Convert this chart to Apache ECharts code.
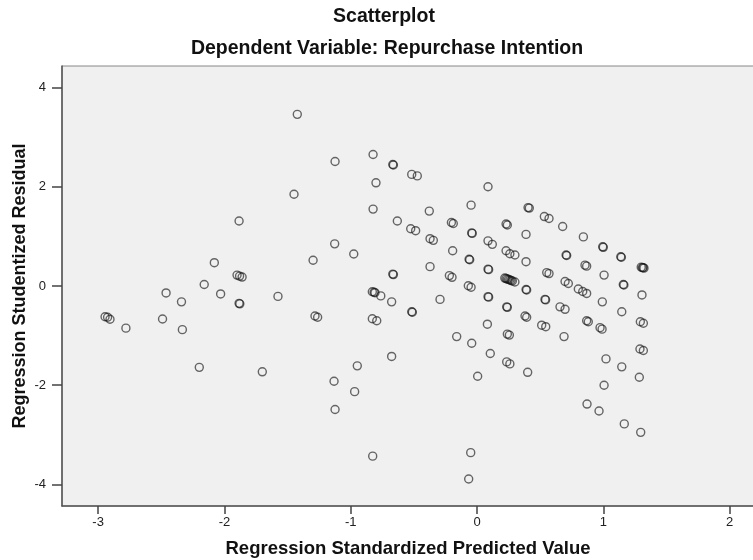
<!DOCTYPE html>
<html>
<head>
<meta charset="utf-8">
<script src="https://cdn.jsdelivr.net/npm/echarts@6/dist/echarts.min.js"></script>
<style>
html,body{margin:0;padding:0;background:#fff;}
#chart{width:753px;height:560px;}
</style>
</head>
<body>
<div id="chart"></div>
<script>
// Regression Standardized Predicted Value
var predicted = [
 -2.945,-2.925,-2.906,-2.78,-2.49,-2.462,-2.34,-2.333,-2.199,-2.16,-2.08,-2.03,
 -1.90,-1.88,-1.86,-1.884,-1.884,-1.878,-1.70,-1.576,-1.449,-1.423,-1.298,-1.283,-1.262,
 -1.132,-1.127,-1.124,-1.124,-0.976,-0.969,-0.948,-0.829,-0.815,-0.808,-0.762,-0.829,-0.794,
 -0.826,-0.823,-0.823,-0.80,-0.676,-0.676,-0.667,-0.662,-0.667,-0.662,-0.631,-0.525,-0.486,
 -0.517,-0.473,-0.517,-0.512,-0.378,-0.372,-0.346,-0.372,-0.293,-0.219,-0.198,-0.203,-0.188,
 -0.193,-0.161,-0.069,-0.047,-0.063,-0.058,-0.047,-0.042,-0.038,-0.042,-0.05,-0.066,0.005,
 0.082,0.087,0.087,0.121,0.087,0.092,0.087,0.092,0.105,0.23,0.24,0.23,0.26,0.30,
 0.22,0.23,0.24,0.25,0.26,0.27,0.28,0.30,0.235,0.24,0.24,0.256,0.235,0.26,
 0.38,0.393,0.388,0.388,0.388,0.393,0.401,0.404,0.414,0.533,0.57,0.538,0.543,0.512,0.544,
 0.552,0.57,0.657,0.697,0.678,0.689,0.697,0.723,0.705,0.71,0.802,0.837,0.868,0.842,
 0.855,0.868,0.868,0.881,0.871,0.966,0.974,0.99,0.992,0.995,1.0,1.006,1.006,1.021,
 1.138,1.143,1.146,1.146,1.158,1.163,1.166,1.285,1.29,1.317,1.293,1.317,1.296,1.306,
 1.30,1.31,1.322,1.315
];
// Regression Studentized Residual
var residual = [
 -0.62,-0.63,-0.67,-0.85,-0.665,-0.14,-0.32,-0.88,-1.64,0.03,0.47,-0.16,
 0.22,0.20,0.18,1.31,-0.35,-0.36,-1.73,-0.21,1.85,3.46,0.52,-0.605,-0.63,
 -1.92,0.85,2.51,-2.49,0.645,-2.13,-1.61,-0.115,-0.125,-0.135,-0.20,-0.66,-0.70,
 -3.43,2.65,1.55,2.08,-0.32,-1.42,2.45,2.44,0.24,0.23,1.31,1.155,1.115,
 2.25,2.22,-0.52,-0.53,1.51,0.954,0.92,0.39,-0.27,0.21,0.175,1.28,1.26,
 0.71,-1.02,0.006,-0.026,0.54,0.53,1.63,1.07,1.06,-1.155,-3.36,-3.89,-1.82,
 -0.77,2.0,0.91,0.84,0.34,0.33,-0.215,-0.225,-1.36,1.25,1.23,0.71,0.65,0.625,
 0.16,0.15,0.14,0.13,0.12,0.11,0.10,0.08,-0.42,-0.43,-0.97,-0.99,-1.53,-1.57,
 -0.605,-0.63,1.04,0.49,-0.07,-0.08,-1.74,1.58,1.57,1.40,1.36,-0.27,-0.28,-0.79,-0.82,
 0.27,0.25,-0.42,-0.47,1.20,-1.02,0.09,0.05,0.625,0.615,-0.06,-0.11,-0.15,0.99,
 0.42,0.40,-0.70,-0.72,-2.38,-2.52,-0.84,-0.87,-0.32,0.79,0.78,0.22,-2.00,-1.47,
 0.59,0.58,-0.52,-1.63,0.03,0.02,-2.78,-1.84,-1.27,-1.30,-0.72,-0.75,-2.95,-0.18,
 0.38,0.37,0.36,0.37
];
var xTickValues = [-3, -2, -1, 0, 1, 2];
var yTickValues = [-4, -2, 0, 2, 4];
var titleText = 'Scatterplot';
var subtitleText = 'Dependent Variable: Repurchase Intention';
var xAxisName = 'Regression Standardized Predicted Value';
var yAxisName = 'Regression Studentized Residual';

var points = predicted.map(function (v, i) { return [v, residual[i]]; });
var FONT = "'Liberation Sans', Arial, Helvetica, sans-serif";

var chart = echarts.init(document.getElementById('chart'), null, {renderer: 'canvas'});
chart.setOption({
  animation: false,
  backgroundColor: '#ffffff',
  graphic: [
    {type: 'text', x: 384, y: 17, style: {text: titleText, textAlign: 'center', textVerticalAlign: 'middle', font: 'bold 19.5px ' + FONT, fill: '#111'}},
    {type: 'text', x: 387, y: 49, style: {text: subtitleText, textAlign: 'center', textVerticalAlign: 'middle', font: 'bold 19.5px ' + FONT, fill: '#111'}}
  ],
  grid: {
    left: 62, top: 66, width: 692, height: 440,
    outerBoundsMode: 'none', containLabel: false,
    show: true, backgroundColor: '#f0f0f0', borderColor: '#888', borderWidth: 1
  },
  xAxis: {
    type: 'value', min: -3.286, max: 2.193,
    name: xAxisName, nameLocation: 'middle', nameGap: 33,
    nameTextStyle: {fontFamily: FONT, fontWeight: 'bold', fontSize: 18.5, color: '#111'},
    axisLine: {show: true, onZero: false, lineStyle: {color: '#555', width: 1.5}},
    axisTick: {show: true, length: 8, customValues: xTickValues, lineStyle: {color: '#444', width: 1.5}},
    axisLabel: {customValues: xTickValues, margin: 10, fontFamily: FONT, fontSize: 13, color: '#222'},
    splitLine: {show: false}
  },
  yAxis: {
    type: 'value', min: -4.435, max: 4.435,
    name: yAxisName, nameLocation: 'middle', nameGap: 33, nameRotate: 90, nameMoveOverlap: false,
    nameTextStyle: {fontFamily: FONT, fontWeight: 'bold', fontSize: 18, color: '#111'},
    axisLine: {show: true, onZero: false, lineStyle: {color: '#555', width: 1.5}},
    axisTick: {show: true, length: 10, customValues: yTickValues, lineStyle: {color: '#444', width: 1.5}},
    axisLabel: {customValues: yTickValues, margin: 16, fontFamily: FONT, fontSize: 13, color: '#222'},
    splitLine: {show: false}
  },
  series: [{
    type: 'scatter',
    data: points,
    symbol: 'circle',
    symbolSize: 8,
    itemStyle: {color: 'rgba(0,0,0,0)', borderColor: 'rgba(20,20,20,0.8)', borderWidth: 1.4},
    emphasis: {disabled: true}
  }]
});
</script>
</body>
</html>
